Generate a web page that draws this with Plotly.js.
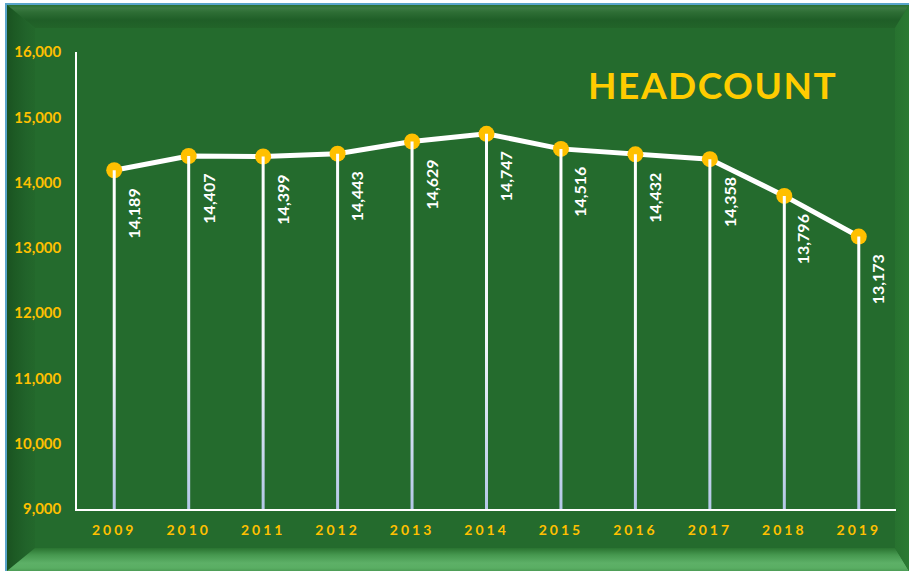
<!DOCTYPE html>
<html>
<head>
<meta charset="utf-8">
<script src="https://cdn.plot.ly/plotly-3.0.1.min.js"></script>
<style>
html,body{margin:0;padding:0;width:909px;height:571px;overflow:hidden;background:#ffffff;}
.layer{position:absolute;left:0;top:0;width:909px;height:571px;}
#edge{position:absolute;left:5px;top:3px;width:910px;height:575px;background:#5AA5CB;}
#face{position:absolute;left:7px;top:5px;width:910px;height:575px;background:#246B2D;}
#bTop{clip-path:polygon(7px 5px,909px 5px,895px 28px,35px 28px);
  background:linear-gradient(to bottom,#2A7031 5px,#3C7B43 8px,#2E6E35 12px,#1F5E27 20px,#226429 28px);}
#bLeft{clip-path:polygon(7px 5px,35px 28px,35px 548px,7px 571px);
  background:linear-gradient(to right,#1A5221 7px,#1D5A24 14px,#21632A 26px,#23682B 35px);}
#bBottom{clip-path:polygon(7px 571px,35px 548px,895px 548px,909px 571px);
  background:linear-gradient(to bottom,#2A7431 548px,#46984F 555px,#5DB067 563px,#5AAE63 568px,#4C9C55 571px);}
#bRight{clip-path:polygon(909px 5px,909px 571px,895px 548px,895px 28px);
  background:linear-gradient(to right,#27722F 895px,#2B7A33 909px);}
#chart{position:absolute;left:0;top:0;width:909px;height:571px;}
.xtick text{letter-spacing:3px;}
.gtitle{letter-spacing:1.5px;}
</style>
</head>
<body>
<div id="edge"></div>
<div id="face"></div>
<div class="layer" id="bTop"></div>
<div class="layer" id="bLeft"></div>
<div class="layer" id="bBottom"></div>
<div class="layer" id="bRight"></div>
<div id="chart"></div>
<script>
// ---- data ----
const years = ['2009','2010','2011','2012','2013','2014','2015','2016','2017','2018','2019'];
const headcount = [14189,14407,14399,14443,14629,14747,14516,14432,14358,13796,13173];
const yMin = 9000;
const yMax = 16000;
const chartTitle = 'HEADCOUNT';

const gold = '#FFC000';
const FONT = 'Lato, "Open Sans", sans-serif';

function fmt(v) { return String(v).replace(/\B(?=(\d{3})+(?!\d))/g, ','); }

const lineTrace = {
  type: 'scatter', mode: 'lines+markers',
  x: years, y: headcount,
  line: {color: '#FFFFFF', width: 5},
  marker: {color: gold, size: 16, line: {width: 0}},
  hoverinfo: 'skip', showlegend: false
};

const dropTrace = {
  type: 'scatter', mode: 'markers',
  x: years, y: headcount,
  marker: {color: 'rgba(0,0,0,0)', size: 1},
  error_y: {
    type: 'data', symmetric: false,
    array: headcount.map(() => 0),
    arrayminus: headcount.map(v => v - yMin),
    color: '#FFFFFF', thickness: 3, width: 0
  },
  hoverinfo: 'skip', showlegend: false
};

const annotations = years.map((yr, i) => ({
  x: i, y: headcount[i], xref: 'x', yref: 'y',
  text: fmt(headcount[i]),
  showarrow: false, textangle: -90,
  xanchor: 'center', yanchor: 'top',
  xshift: 19, yshift: -16,
  font: {family: FONT, size: 16, color: '#FFFFFF', weight: 700}
}));

const layout = {
  width: 909, height: 571,
  margin: {l: 77, r: 13, t: 52, b: 62},
  paper_bgcolor: 'rgba(0,0,0,0)',
  plot_bgcolor: 'rgba(0,0,0,0)',
  title: {
    text: chartTitle,
    xref: 'container', yref: 'container',
    x: 0.784, y: 0.85, xanchor: 'center', yanchor: 'middle',
    font: {family: FONT, size: 37, color: '#FFCC00', weight: 700}
  },
  xaxis: {
    type: 'category', range: [-0.5, years.length - 0.5],
    showline: true, linecolor: '#FFFFFF', linewidth: 2,
    showgrid: false, zeroline: false, ticks: '',
    ticklabelstandoff: 7,
    tickfont: {family: FONT, size: 14, color: gold, weight: 700},
    fixedrange: true
  },
  yaxis: {
    range: [yMin, yMax], dtick: 1000, tickformat: ',d',
    showline: true, linecolor: '#FFFFFF', linewidth: 1.5,
    showgrid: false, zeroline: false, ticks: '',
    ticklabelstandoff: 11,
    tickfont: {family: FONT, size: 15, color: gold, weight: 700},
    fixedrange: true
  },
  annotations: annotations,
  showlegend: false
};

Plotly.newPlot('chart', [lineTrace, dropTrace], layout, {displayModeBar: false}).then(gd => {
  const svg = gd.querySelector('svg.main-svg');
  const defs = svg.querySelector('defs');
  const NS = 'http://www.w3.org/2000/svg';
  gd.querySelectorAll('path.yerror').forEach((p, i) => {
    const bb = p.getBBox();
    const g = document.createElementNS(NS, 'linearGradient');
    g.setAttribute('id', 'dropgrad' + i);
    g.setAttribute('gradientUnits', 'userSpaceOnUse');
    g.setAttribute('x1', bb.x); g.setAttribute('x2', bb.x);
    g.setAttribute('y1', bb.y); g.setAttribute('y2', bb.y + bb.height);
    [['0', '#FFFFFF'], ['0.55', '#F2F6FB'], ['1', '#B4C7E7']].forEach(([o, c]) => {
      const s = document.createElementNS(NS, 'stop');
      s.setAttribute('offset', o); s.setAttribute('stop-color', c);
      g.appendChild(s);
    });
    defs.appendChild(g);
    p.style.stroke = 'url(#dropgrad' + i + ')';
  });
});
</script>
</body>
</html>
